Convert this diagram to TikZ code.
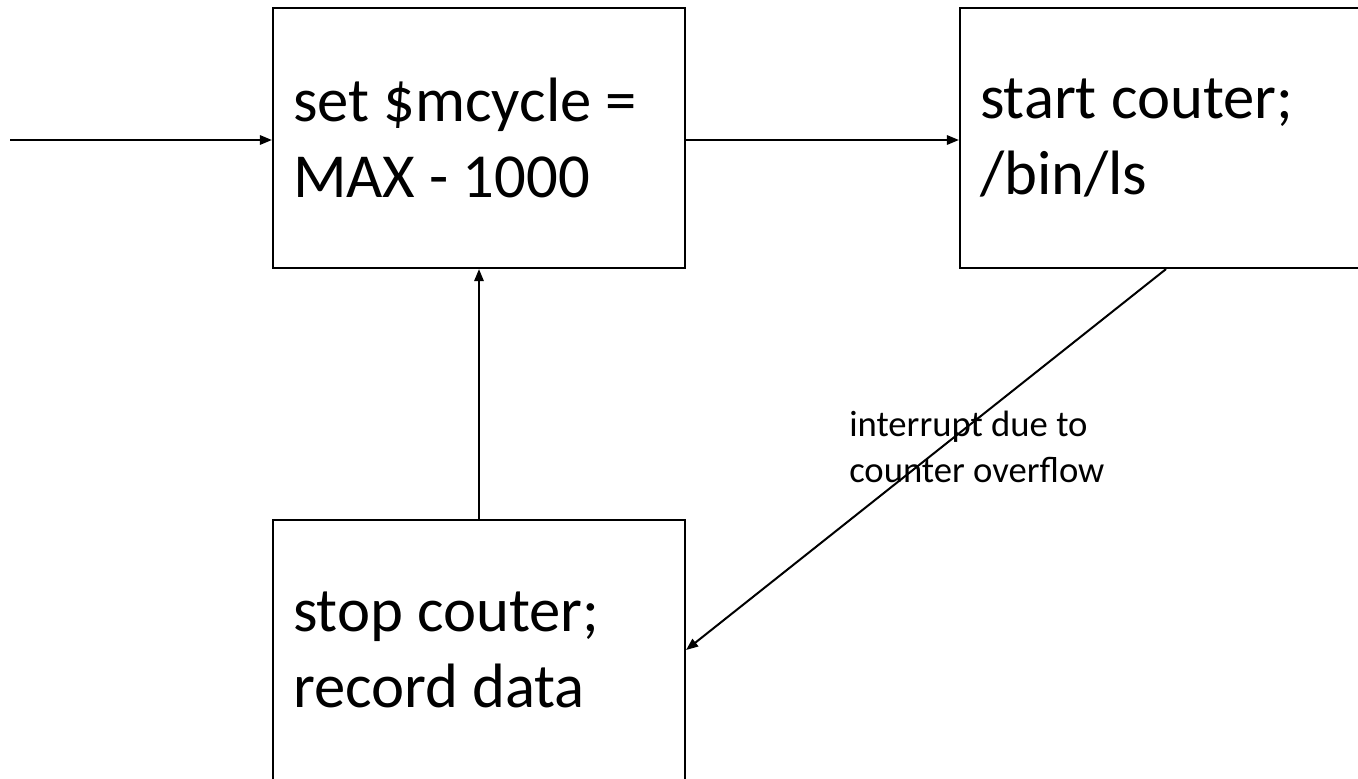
\documentclass[tikz,border=0pt]{standalone}
\usepackage{fontspec}
\setmainfont{Carlito}
\usetikzlibrary{arrows.meta}
% one unit = one screen pixel (0.75pt)
\tikzset{
  stepbox/.style={draw, line width=1.6pt, rectangle, minimum width=309pt, minimum height=195pt,
    text width=279pt, inner xsep=15pt, inner ysep=0pt, align=flush left,
    font=\fontsize{47}{57}\selectfont},
  flow/.style={line width=1.5pt, -{Triangle[length=9pt,width=7pt]}},
  note/.style={align=flush left, inner sep=0pt, font=\fontsize{27.5}{34}\selectfont}
}
\begin{document}
\begin{tikzpicture}[x=0.75pt,y=-0.75pt]
  \useasboundingbox (0,0) rectangle (1358,778);
  \clip (0,0) rectangle (1358,778);
  \node[stepbox] (setm) at (479,138) {set \$mcycle =\\MAX - 1000};
  \node[stepbox] (start) at (1166,138) {start couter;\\/bin/ls};
  \node[stepbox] (stop) at (479,650) {stop couter;\\record data};
  \coordinate (in) at (10,140);
  \draw[flow] (in) -- (setm.west |- in);
  \draw[flow] (setm.east |- in) -- (start.west |- in);
  \draw[flow] (stop.north) -- (setm.south);
  \draw[flow] (start.south) -- (stop.east);
  \node[note, anchor=north west] (irq) at (849,411) {interrupt due to\\counter overflow};
\end{tikzpicture}
\end{document}
